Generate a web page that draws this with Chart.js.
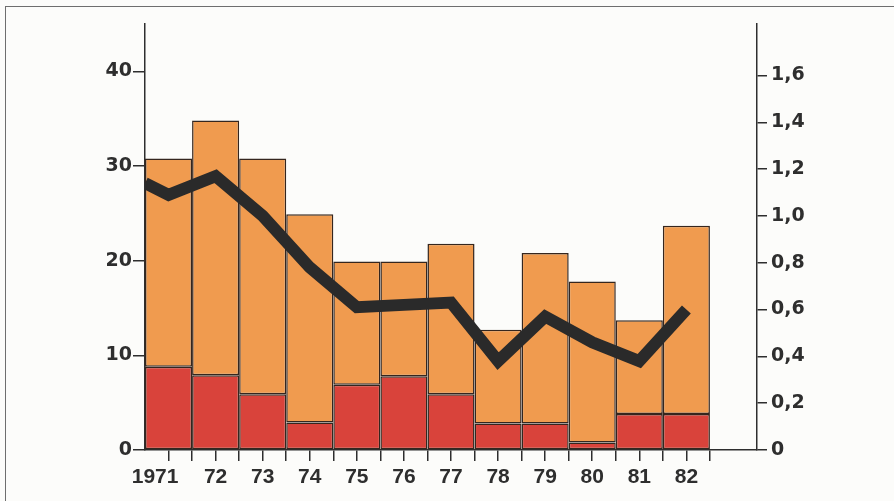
<!DOCTYPE html>
<html>
<head>
<meta charset="utf-8">
<script src="https://cdn.jsdelivr.net/npm/chart.js@4/dist/chart.umd.min.js"></script>
<style>
html,body{margin:0;padding:0;background:#fcfcfa}
#wrap{position:relative;width:894px;height:501px;overflow:hidden}
#frame{position:absolute;left:5px;top:6px;right:-10px;bottom:-10px;border-top:1.5px solid #6e6e6e;border-left:1.5px solid #6e6e6e}
canvas{position:absolute;left:0;top:0}
</style>
</head>
<body>
<div id="wrap">
<div id="frame"></div>
<canvas id="c" width="894" height="501"></canvas>
</div>
<script>
// ── data ──
const years=['1971','72','73','74','75','76','77','78','79','80','81','82'];
const redVals=[8.8,7.9,5.9,2.9,6.9,7.8,5.9,2.8,2.8,0.8,3.8,3.8];
const orangeVals=[22.0,26.9,24.9,22.0,13.0,12.1,15.9,9.9,18.0,17.0,9.9,19.9];
const lineStart=1.14; // line begins on the left axis
const lineVals=[1.09,1.17,1.0,0.78,0.61,0.62,0.63,0.38,0.57,0.46,0.38,0.60];
const leftTicks=[0,10,20,30,40];
const rightTicks=[0,0.2,0.4,0.6,0.8,1.0,1.2,1.4,1.6];

const INK='#2e2e2e';
const YFONT={family:'"DejaVu Sans", sans-serif',size:19,weight:'bold'};
const XFONT={family:'"Liberation Sans", Arial, sans-serif',size:21,weight:'bold'};

const barPts=vals=>vals.map((v,i)=>({x:i,y:v}));
const linePts=[{x:-0.5,y:lineStart}].concat(lineVals.map((v,i)=>({x:i,y:v})));
const hidden='rgba(0,0,0,0)';
// the first year label sits a little left of its bar in the original
const xLabel=i=>i===0?years[0]+'\u2003 ':years[i];

new Chart(document.getElementById('c'),{
  type:'bar',
  data:{datasets:[
    {type:'line',data:linePts,yAxisID:'y1',borderColor:'#2a2a2a',borderWidth:12,
      borderJoinStyle:'miter',borderCapStyle:'butt',pointRadius:0,tension:0,order:0},
    {data:barPts(redVals),backgroundColor:'#d9433b',borderColor:'#35261e',borderWidth:1.5,
      borderSkipped:false,stack:'s',yAxisID:'y',order:1,
      // tick gaps (0.5 step) halve the ruler, so double it back to a full slot
      categoryPercentage:1,barPercentage:2},
    {data:barPts(orangeVals),backgroundColor:'#f09b4f',borderColor:'#35261e',borderWidth:1.5,
      borderSkipped:false,stack:'s',yAxisID:'y',order:1,
      categoryPercentage:1,barPercentage:2}
  ]},
  options:{
    responsive:false,animation:false,
    layout:{padding:{top:24,left:0,right:0,bottom:0}},
    plugins:{legend:{display:false},tooltip:{enabled:false}},
    scales:{
      x:{type:'linear',min:-0.5,max:12.5,stacked:true,offset:false,
        afterFit:s=>{s.height=51},
        border:{color:INK,width:1.5},
        grid:{offset:false,drawOnChartArea:false,tickLength:11,lineWidth:1.5,
          color:ctx=>{const v=ctx.tick?ctx.tick.value:0;return (v<0||v>=12)?hidden:INK}},
        ticks:{stepSize:0.5,autoSkip:false,maxRotation:0,padding:4,color:INK,font:XFONT,
          callback:v=>Number.isInteger(v)&&v<years.length?xLabel(v):''}},
      y:{position:'left',stacked:true,min:0,max:45,
        afterFit:s=>{s.width=145},
        afterBuildTicks:s=>{s.ticks=leftTicks.map(v=>({value:v}))},
        border:{color:INK,width:1.5},
        grid:{drawOnChartArea:false,tickLength:12,lineWidth:1.5,color:INK},
        ticks:{padding:1,color:INK,font:YFONT}},
      y1:{position:'right',min:0,max:1.82,
        afterFit:s=>{s.width=137},
        afterBuildTicks:s=>{s.ticks=rightTicks.map(v=>({value:v}))},
        border:{color:INK,width:1.5},
        grid:{drawOnChartArea:false,tickLength:10,lineWidth:1.5,color:INK},
        ticks:{padding:4,color:INK,font:YFONT,
          callback:v=>v===0?'0':v.toFixed(1).replace('.',',')}}
    }
  }
});
</script>
</body>
</html>
